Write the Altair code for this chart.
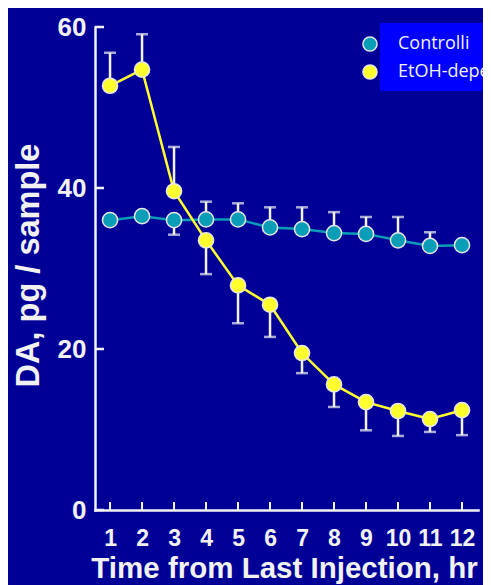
import altair as alt
import pandas as pd

hours = list(range(1, 13))
ctrl_mean = [36.0, 36.5, 36.0, 36.1, 36.1, 35.1, 34.9, 34.4, 34.3, 33.5, 32.8, 32.9]
ctrl_err = [None, None, 34.2, 38.3, 38.1, 37.6, 37.6, 37.0, 36.4, 36.4, 34.5, None]
etoh_mean = [52.7, 54.7, 39.6, 33.5, 27.9, 25.5, 19.5, 15.6, 13.4, 12.3, 11.3, 12.4]
etoh_err = [56.8, 59.1, 45.1, 29.3, 23.2, 21.5, 17.0, 12.8, 9.9, 9.2, 9.7, 9.3]
series_names = ["Controlli", "EtOH-dependent"]
y_ticks = [0, 20, 40, 60]

CYAN = "#0A9DB8"
YELLOW = "#FFFF2E"
WHITE = "#F2F2F2"
BG = "#000096"

rows = []
for name, means, errs in [(series_names[0], ctrl_mean, ctrl_err), (series_names[1], etoh_mean, etoh_err)]:
    for h, m, e in zip(hours, means, errs):
        rows.append({"hour": h, "mean": m, "err": e, "series": name})
df = pd.DataFrame(rows)
err_df = df.dropna(subset=["err"])
ytick_df = pd.DataFrame({"mean": y_ticks})
xtick_df = pd.DataFrame({"hour": hours})

x_enc = alt.X("hour:Q",
              scale=alt.Scale(domain=[0.53, 12.5], nice=False, zero=False),
              axis=alt.Axis(values=hours, title="Time from Last Injection, hr",
                            labelPadding=17, labelFontSize=23, titleFontSize=29.5,
                            titleY=67, titleX=189, titleBaseline="alphabetic",
                            format="d"))
y_enc = alt.Y("mean:Q",
              scale=alt.Scale(domain=[0, 60], nice=False),
              axis=alt.Axis(values=y_ticks, title="DA, pg / sample",
                            labelPadding=9, labelFontSize=26, titleFontSize=32.5,
                            titleX=-67, titleY=238,
                            titleAngle=270, titleBaseline="middle", titleAlign="center"))
color_enc = alt.Color("series:N", scale=alt.Scale(domain=series_names, range=[CYAN, YELLOW]), legend=None)

W, H = 383, 483

base = alt.Chart(df)

err_rules = alt.Chart(err_df).mark_rule(color=WHITE, strokeWidth=2.5).encode(
    x=x_enc, y=y_enc, y2="err:Q")
err_caps = alt.Chart(err_df).mark_tick(color=WHITE, thickness=2.5, size=12, orient="horizontal").encode(
    x=x_enc, y=alt.Y("err:Q", scale=alt.Scale(domain=[0, 60], nice=False)))

lines = base.mark_line(strokeWidth=2.5).encode(x=x_enc, y=y_enc, color=color_enc, detail="series:N")
points = base.mark_circle(size=230, opacity=1, stroke="#E6E6E6", strokeWidth=1.5).encode(
    x=x_enc, y=y_enc, color=color_enc)

yticks = alt.Chart(ytick_df).mark_rule(color=WHITE, strokeWidth=2.5).encode(
    y=y_enc, x=alt.value(0), x2=alt.value(9))
xticks = alt.Chart(xtick_df).mark_rule(color=WHITE, strokeWidth=2).encode(
    x=x_enc, y=alt.value(H), y2=alt.value(H - 8))

one = pd.DataFrame({"a": [0]})
leg_box = alt.Chart(one).mark_rect(color="#0000FF").encode(
    x=alt.value(285), x2=alt.value(420), y=alt.value(-4), y2=alt.value(64))
leg_layers = [leg_box]
for i, (name, col) in enumerate(zip(series_names, [CYAN, YELLOW])):
    yy = 17 + i * 28
    leg_layers.append(alt.Chart(one).mark_circle(size=200, opacity=1, color=col, stroke="#E6E6E6", strokeWidth=1.5).encode(
        x=alt.value(275), y=alt.value(yy)))
    leg_layers.append(alt.Chart(one).mark_text(align="left", baseline="middle", font="Open Sans",
                                               fontSize=18, color=WHITE).encode(
        x=alt.value(303), y=alt.value(yy), text=alt.value(name)))

chart = alt.layer(err_rules, err_caps, lines, points, yticks, xticks, *leg_layers).properties(
    width=W, height=H,
    background=BG,
    autosize=alt.AutoSizeParams(type="none"),
    padding={"left": 87, "top": 19, "right": 5, "bottom": 75},
).configure_view(stroke=None).configure_axis(
    grid=False, ticks=False,
    domainColor=WHITE, domainWidth=2.5, domainCap="square",
    labelColor=WHITE, labelFont="Liberation Sans", labelFontWeight="bold",
    titleColor=WHITE, titleFont="Liberation Sans", titleFontWeight="bold",
)

chart.save("out.html", embed_options={"renderer": "svg", "actions": False})
